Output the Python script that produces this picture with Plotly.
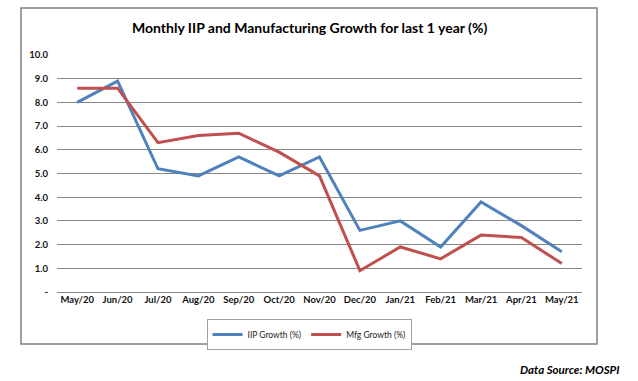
import plotly.graph_objects as go

months = ["May/20", "Jun/20", "Jul/20", "Aug/20", "Sep/20", "Oct/20", "Nov/20",
          "Dec/20", "Jan/21", "Feb/21", "Mar/21", "Apr/21", "May/21"]
iip_growth = [8.0, 8.9, 5.2, 4.9, 5.7, 4.9, 5.7, 2.6, 3.0, 1.9, 3.8, 2.8, 1.7]
mfg_growth = [8.6, 8.6, 6.3, 6.6, 6.7, 5.9, 4.9, 0.9, 1.9, 1.4, 2.4, 2.3, 1.2]
y_ticks = [0, 1, 2, 3, 4, 5, 6, 7, 8, 9, 10]
y_tick_text = ["-", "1.0", "2.0", "3.0", "4.0", "5.0", "6.0", "7.0", "8.0", "9.0", "10.0"]

font = "Lato, 'DejaVu Sans', sans-serif"

fig = go.Figure()
fig.add_trace(go.Scatter(x=months, y=iip_growth, mode="lines", name="IIP Growth (%)",
                         line=dict(color="#4F81BD", width=3)))
fig.add_trace(go.Scatter(x=months, y=mfg_growth, mode="lines", name="Mfg Growth (%)",
                         line=dict(color="#C0504D", width=3)))

W, H = 638, 381
L, R, T, B = 57, 56, 55, 89
pw, ph = W - L - R, H - T - B

def px(x):
    return (x - L) / pw

def py(y):
    return (H - B - y) / ph

fig.update_layout(
    width=W, height=H,
    margin=dict(l=L, r=R, t=T, b=B, autoexpand=False),
    paper_bgcolor="white", plot_bgcolor="white",
    font=dict(family=font, color="black"),
    showlegend=True,
    legend=dict(orientation="h", x=px(309), xanchor="center", y=py(319), yanchor="top",
                bordercolor="#A0A0A0", borderwidth=1, font=dict(size=8.5, color="#222"),
                itemwidth=30, tracegroupgap=0),
    xaxis=dict(type="category", range=[-0.5, 12.5], showgrid=False, showline=False,
               ticks="", tickfont=dict(size=9.5, family=font, weight="bold", color="#111"),
               zeroline=False, fixedrange=True, automargin=False),
    yaxis=dict(range=[0, 10], tickvals=y_ticks, ticktext=y_tick_text,
               showgrid=True, gridcolor="#868686", gridwidth=1, zeroline=True,
               zerolinecolor="#868686", zerolinewidth=1,
               tickfont=dict(size=9.5, family=font, weight="bold", color="#111"), ticks="",
               ticklabelstandoff=8, fixedrange=True, automargin=False),
    shapes=[dict(type="rect", xref="paper", yref="paper",
                 x0=px(21), x1=px(597), y0=py(344), y1=py(8),
                 line=dict(color="#808080", width=1.5), fillcolor="rgba(0,0,0,0)", layer="below")],
    annotations=[
        dict(text="<b>Monthly IIP and Manufacturing Growth for last 1 year (%)</b>",
             xref="paper", yref="paper", x=px(309), y=py(27), xanchor="center", yanchor="middle",
             showarrow=False, font=dict(size=14, family=font, color="black")),
        dict(text="<b><i>Data Source: MOSPI</i></b>",
             xref="paper", yref="paper", x=px(622), y=py(369), xanchor="right", yanchor="middle",
             showarrow=False, font=dict(size=11.5, family=font, color="black")),
    ],
)

fig.write_html("out.html", config={"displayModeBar": False},
               post_script="document.body.style.margin='0';document.body.style.overflow='hidden';")
